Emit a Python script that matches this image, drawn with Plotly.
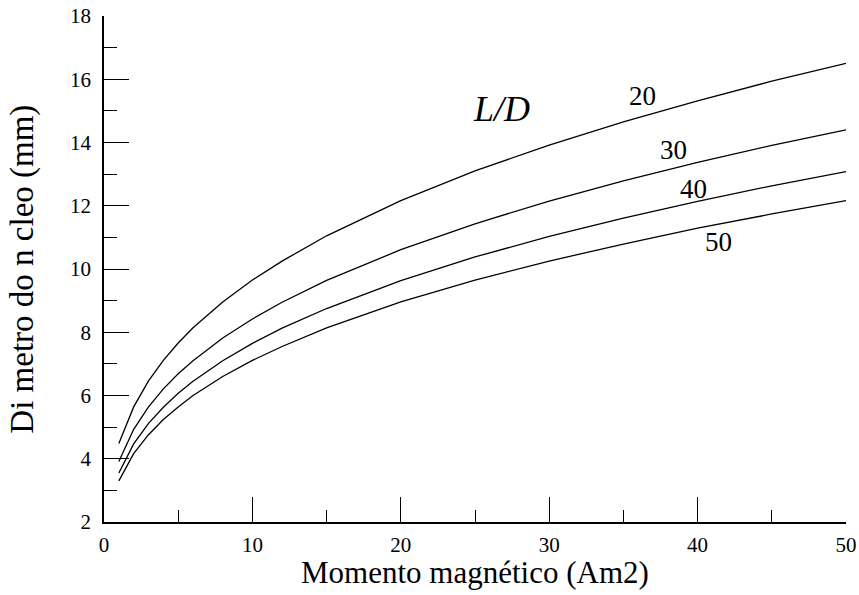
import plotly.graph_objects as go

# Data
moment = [1, 2, 3, 4, 5, 6, 8, 10, 12, 15, 20, 25, 30, 35, 40, 45, 50]
ld_labels = ["20", "30", "40", "50"]
d_ld20 = [4.48, 5.64, 6.46, 7.11, 7.66, 8.14, 8.96, 9.65, 10.25, 11.05, 12.16, 13.10, 13.92, 14.65, 15.32, 15.94, 16.50]
d_ld30 = [3.91, 4.93, 5.64, 6.21, 6.69, 7.10, 7.82, 8.42, 8.95, 9.64, 10.61, 11.43, 12.15, 12.79, 13.37, 13.91, 14.40]
d_ld40 = [3.55, 4.47, 5.12, 5.63, 6.07, 6.45, 7.10, 7.65, 8.13, 8.75, 9.63, 10.38, 11.03, 11.61, 12.14, 12.63, 13.08]
d_ld50 = [3.30, 4.16, 4.76, 5.24, 5.64, 6.00, 6.60, 7.11, 7.55, 8.14, 8.96, 9.65, 10.25, 10.79, 11.29, 11.74, 12.16]
series = [d_ld20, d_ld30, d_ld40, d_ld50]

# label positions (data coords)
label_x = [36.3, 38.4, 39.7, 41.4]
label_y = [15.47, 13.76, 12.53, 10.85]

x_ticks = [0, 10, 20, 30, 40, 50]
y_ticks = [2, 4, 6, 8, 10, 12, 14, 16, 18]

FONT = "Liberation Serif"

fig = go.Figure()
for name, ys in zip(ld_labels, series):
    fig.add_trace(go.Scatter(x=moment, y=ys, mode="lines", name=name,
                             line=dict(color="black", width=1.3),
                             showlegend=False, hoverinfo="skip"))

annotations = []
for t, lx, ly in zip(ld_labels, label_x, label_y):
    annotations.append(dict(x=lx, y=ly, xref="x", yref="y", text=t, showarrow=False,
                            xanchor="center", yanchor="middle",
                            font=dict(family=FONT, size=27, color="black")))
annotations.append(dict(x=26.8, y=15.06, xref="x", yref="y", text="<i>L/D</i>",
                        showarrow=False, xanchor="center", yanchor="middle",
                        font=dict(family=FONT, size=36, color="black")))
annotations.append(dict(x=0.5, y=-0.1007, xref="paper", yref="paper",
                        text="Momento magnético (Am2)", showarrow=False,
                        xanchor="center", yanchor="middle",
                        font=dict(family=FONT, size=31, color="black")))
annotations.append(dict(x=-0.111, y=0.5, xref="paper", yref="paper",
                        text="Di metro do n cleo (mm)", showarrow=False, textangle=-90,
                        xanchor="center", yanchor="middle",
                        font=dict(family=FONT, size=33, color="black")))

fig.update_layout(
    width=859, height=595,
    margin=dict(l=103.5, r=13, t=16, b=73.4, autoexpand=False),
    paper_bgcolor="white", plot_bgcolor="white",
    annotations=annotations,
    font=dict(family=FONT, color="black", size=21),
)
fig.update_xaxes(range=[0, 50], tickvals=x_ticks, ticktext=[str(v) for v in x_ticks],
                 ticks="inside", ticklen=25, tickwidth=1.3, tickcolor="black",
                 ticklabelstandoff=3,
                 showline=True, linecolor="black", linewidth=1.5,
                 showgrid=False, zeroline=False,
                 tickfont=dict(family=FONT, size=21, color="black"),
                 minor=dict(tickvals=[5, 15, 25, 35, 45], ticks="inside", ticklen=12,
                            tickwidth=1.3, tickcolor="black", showgrid=False))
fig.update_yaxes(range=[2, 18], tickvals=y_ticks, ticktext=[str(v) for v in y_ticks],
                 ticks="inside", ticklen=25, tickwidth=1.3, tickcolor="black",
                 ticklabelstandoff=7,
                 showline=True, linecolor="black", linewidth=1.5,
                 showgrid=False, zeroline=False,
                 tickfont=dict(family=FONT, size=21, color="black"),
                 minor=dict(tickvals=[3, 5, 7, 9, 11, 13, 15, 17], ticks="inside", ticklen=13,
                            tickwidth=1.3, tickcolor="black", showgrid=False))

fig.write_html("out.html", config={"displayModeBar": False},
               post_script="document.body.style.margin='0';document.body.style.overflow='hidden';")
